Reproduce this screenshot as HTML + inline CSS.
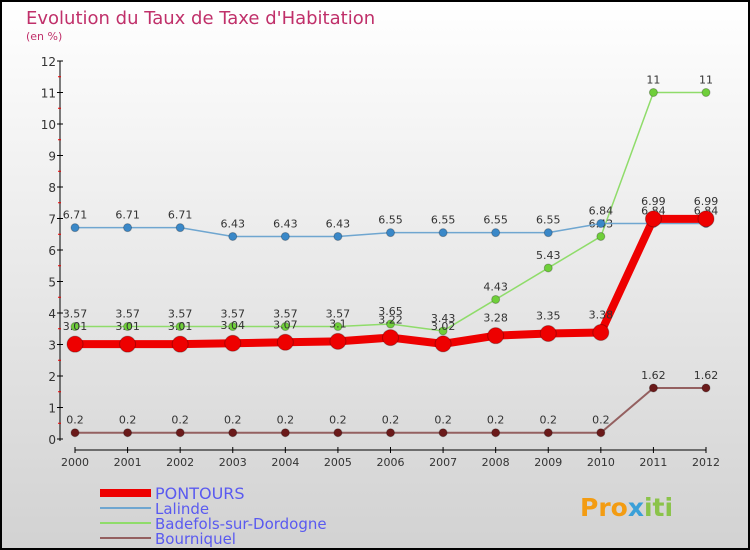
<!DOCTYPE html>
<html><head><meta charset="utf-8"><style>
body{margin:0}
svg{display:block;font-family:"DejaVu Sans","Liberation Sans",sans-serif}
</style></head><body>
<svg id="c" width="750" height="550" xmlns="http://www.w3.org/2000/svg">
<defs><linearGradient id="bg" x1="0" y1="0" x2="0" y2="1"><stop offset="0" stop-color="#ffffff"/><stop offset="1" stop-color="#d2d2d2"/></linearGradient></defs>
<rect x="1" y="1" width="748" height="548" fill="url(#bg)" stroke="#000" stroke-width="2"/>
<text x="26" y="24" font-size="18" fill="#c0306a">Evolution du Taux de Taxe d'Habitation</text>
<text x="26" y="40" font-size="11" fill="#c0306a">(en %)</text>
<g id="axes"></g><g id="series"></g><g id="legend"></g>
<text x="580" y="516" font-size="25" font-weight="bold" fill="#f39c12">Pro<tspan fill="#3aa0d8">x</tspan><tspan fill="#8bc34a">iti</tspan></text>
</svg>
<script>
const years=[2000,2001,2002,2003,2004,2005,2006,2007,2008,2009,2010,2011,2012];
const pontours=[3.01,3.01,3.01,3.04,3.07,3.1,3.22,3.02,3.28,3.35,3.38,6.99,6.99];
const lalinde=[6.71,6.71,6.71,6.43,6.43,6.43,6.55,6.55,6.55,6.55,6.84,6.84,6.84];
const badefols=[3.57,3.57,3.57,3.57,3.57,3.57,3.65,3.43,4.43,5.43,6.43,11,11];
const bourniquel=[0.2,0.2,0.2,0.2,0.2,0.2,0.2,0.2,0.2,0.2,0.2,1.62,1.62];
const yTicks=[0,1,2,3,4,5,6,7,8,9,10,11,12];
const NS="http://www.w3.org/2000/svg";
const X=i=>75+i*(631/12);
const Y=v=>439-v*31.5;
function mk(t,a,p){const e=document.createElementNS(NS,t);for(const k in a)e.setAttribute(k,a[k]);p.appendChild(e);return e;}
const ax=document.getElementById('axes');
let yl=mk('line',{x1:60,y1:Y(12),x2:60,y2:Y(0)+2,stroke:'#000'},ax);


yTicks.forEach(v=>{
 mk('line',{x1:57,x2:63,y1:Y(v),y2:Y(v),stroke:'#000'},ax);
 if(v<12)mk('line',{x1:58,x2:61,y1:Y(v+0.5),y2:Y(v+0.5),stroke:'#e00'},ax);
 const t=mk('text',{x:56,y:Y(v)+5,'text-anchor':'end','font-size':12,fill:'#333'},ax);t.textContent=v;
 
 
});
let xl=mk('line',{x1:X(0),y1:450,x2:X(12),y2:450,stroke:'#000'},ax);


years.forEach((y,i)=>{
 mk('line',{x1:X(i),x2:X(i),y1:447,y2:453,stroke:'#000'},ax);
 const t=mk('text',{x:X(i),y:466,'text-anchor':'middle','font-size':11,fill:'#333'},ax);t.textContent=y;
 
 
});
const sg=document.getElementById('series');
function series(vals,color,w,r,ptFill,name,dy){
 const g=mk('g',{},sg);
 
 
 mk('polyline',{points:vals.map((v,i)=>X(i)+','+Y(v)).join(' '),fill:'none',stroke:color,'stroke-width':w,'stroke-linejoin':'round'},g);
 vals.forEach((v,i)=>{
  const c=mk('circle',{cx:X(i),cy:Y(v),r:r,fill:ptFill,stroke:'rgba(0,0,0,0.25)'},g);
  
  
  const t=mk('text',{x:X(i),y:Y(v)+dy,'text-anchor':'middle','font-size':11,fill:'#333'},g);t.textContent=v;
  
  
 });
}
series(bourniquel,'#946060',2,4,'#6b1a1a','bourniquel-series',-9);
series(badefols,'#8fdc6a',1.5,4,'#6fcf3a','badefols-series',-9);
series(lalinde,'#6fa6d0',1.5,4,'#3a88c8','lalinde-series',-9);
series(pontours,'#ee0000',8,8,'#ee0000','pontours-series',-14);
const lg=document.getElementById('legend');
const items=[['PONTOURS','#ee0000',8],['Lalinde','#6fa6d0',2],['Badefols-sur-Dordogne','#8fdc6a',2],['Bourniquel','#946060',2]];
items.forEach((it,k)=>{
 const y=493+k*15;
 const g=mk('g',{},lg);
 
 
 mk('line',{x1:100,x2:151,y1:y,y2:y,stroke:it[1],'stroke-width':it[2]},g);
 const t=mk('text',{x:155,y:y+6,'font-size':k==0?16:15,fill:'#5a5af0'},g);t.textContent=it[0];
});
</script>
</body></html>
